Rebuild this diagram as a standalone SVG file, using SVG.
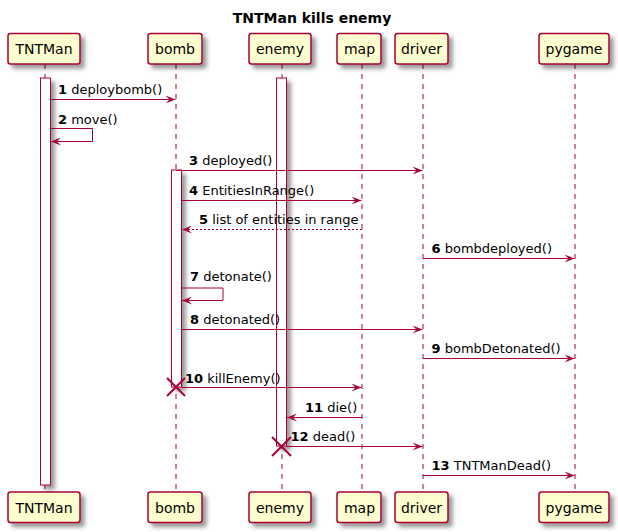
<svg xmlns="http://www.w3.org/2000/svg" width="618" height="532" viewBox="0 0 618 532">
<defs>
<filter id="sh" x="-1" y="-1" width="300%" height="300%">
<feGaussianBlur result="blurOut" stdDeviation="2"/>
<feColorMatrix type="matrix" in="blurOut" result="cm" values="0 0 0 0 0 0 0 0 0 0 0 0 0 0 0 0 0 0 .4 0"/>
<feOffset in="cm" result="off" dx="4" dy="4"/>
<feBlend in="SourceGraphic" in2="off" mode="normal"/>
</filter>
<marker id="ah" viewBox="0 0 10 8" refX="10" refY="4" markerWidth="10" markerHeight="8" markerUnits="userSpaceOnUse" orient="auto">
<polygon points="0,0 10,4 0,8 4,4" fill="#A80036"/>
</marker>
</defs>
<style>
.box{fill:#FEFECE;stroke:#A80036;stroke-width:1.5;filter:url(#sh)}
.bar{fill:#FFFFFF;stroke:#A80036;stroke-width:1;filter:url(#sh)}
.life{stroke:#A80036;stroke-width:1;stroke-dasharray:5,5;fill:none}
.pt{font-family:"DejaVu Sans",sans-serif;font-size:14px;fill:#000;text-anchor:middle}
.msg{stroke:#A80036;stroke-width:1;fill:none;marker-end:url(#ah)}
.ret{stroke:#A80036;stroke-width:1;fill:none;stroke-dasharray:2,2;marker-end:url(#ah)}
.lbl{font-family:"DejaVu Sans",sans-serif;font-size:13px;fill:#000}
.num{font-weight:bold}
.x{stroke:#A80036;stroke-width:2}
.title{font-family:"DejaVu Sans",sans-serif;font-size:14px;font-weight:bold;text-anchor:middle;fill:#000}
</style>
<rect width="618" height="532" fill="#FFFFFF"/>
<text class="title" x="312" y="23">TNTMan kills enemy</text>

<g id="lifelines">
<line class="life" x1="45" y1="64" x2="45" y2="492"/>
<line class="life" x1="176" y1="64" x2="176" y2="492"/>
<line class="life" x1="282" y1="64" x2="282" y2="492"/>
<line class="life" x1="362" y1="64" x2="362" y2="492"/>
<line class="life" x1="423" y1="64" x2="423" y2="492"/>
<line class="life" x1="575" y1="64" x2="575" y2="492"/>
</g>

<g id="TNTMan">
<rect class="bar" x="40.5" y="78" width="10" height="407"/>
<rect class="box" x="8" y="33.5" width="72" height="30.5" rx="2.5"/>
<text class="pt" x="44" y="54">TNTMan</text>
<rect class="box" x="8" y="492" width="72" height="30.5" rx="2.5"/>
<text class="pt" x="44" y="512.5">TNTMan</text>
</g>
<g id="bomb">
<rect class="bar" x="171.5" y="170" width="10" height="217"/>
<rect class="box" x="148" y="33.5" width="54" height="30.5" rx="2.5"/>
<text class="pt" x="175" y="54">bomb</text>
<rect class="box" x="148" y="492" width="54" height="30.5" rx="2.5"/>
<text class="pt" x="175" y="512.5">bomb</text>
</g>
<g id="enemy">
<rect class="bar" x="276.5" y="78" width="10" height="368"/>
<rect class="box" x="249" y="33.5" width="62" height="30.5" rx="2.5"/>
<text class="pt" x="280" y="54">enemy</text>
<rect class="box" x="249" y="492" width="62" height="30.5" rx="2.5"/>
<text class="pt" x="280" y="512.5">enemy</text>
</g>
<g id="map">
<rect class="box" x="337" y="33.5" width="44" height="30.5" rx="2.5"/>
<text class="pt" x="359.5" y="54">map</text>
<rect class="box" x="337" y="492" width="44" height="30.5" rx="2.5"/>
<text class="pt" x="359.5" y="512.5">map</text>
</g>
<g id="driver">
<rect class="box" x="395" y="33.5" width="53" height="30.5" rx="2.5"/>
<text class="pt" x="421.5" y="54">driver</text>
<rect class="box" x="395" y="492" width="53" height="30.5" rx="2.5"/>
<text class="pt" x="421.5" y="512.5">driver</text>
</g>
<g id="pygame">
<rect class="box" x="539" y="33.5" width="70" height="30.5" rx="2.5"/>
<text class="pt" x="574" y="54">pygame</text>
<rect class="box" x="539" y="492" width="70" height="30.5" rx="2.5"/>
<text class="pt" x="574" y="512.5">pygame</text>
</g>

<g id="connectors">
<line class="msg" x1="50.5" y1="99.5" x2="175.5" y2="99.5"/>
<text class="lbl" x="58" y="94"><tspan class="num">1</tspan> deploybomb()</text>

<polyline class="msg" points="50.5,128.5 92.5,128.5 92.5,141.5 51,141.5"/>
<text class="lbl" x="58" y="123.5"><tspan class="num">2</tspan> move()</text>

<line class="msg" x1="176" y1="170.5" x2="422.5" y2="170.5"/>
<text class="lbl" x="189" y="165"><tspan class="num">3</tspan> deployed()</text>

<line class="msg" x1="181.5" y1="200.5" x2="361.5" y2="200.5"/>
<text class="lbl" x="189" y="195"><tspan class="num">4</tspan> EntitiesInRange()</text>

<line class="ret" x1="362" y1="229.5" x2="182" y2="229.5"/>
<text class="lbl" x="199" y="224"><tspan class="num">5</tspan> list of entities in range</text>

<line class="msg" x1="423" y1="258.5" x2="574.5" y2="258.5"/>
<text class="lbl" x="431.5" y="253"><tspan class="num">6</tspan> bombdeployed()</text>

<polyline class="msg" points="181.5,288 223,288 223,300.5 182,300.5"/>
<text class="lbl" x="190" y="281"><tspan class="num">7</tspan> detonate()</text>

<line class="msg" x1="181.5" y1="329.5" x2="422.5" y2="329.5"/>
<text class="lbl" x="190" y="324"><tspan class="num">8</tspan> detonated()</text>

<line class="msg" x1="423" y1="358.5" x2="574.5" y2="358.5"/>
<text class="lbl" x="431.5" y="353"><tspan class="num">9</tspan> bombDetonated()</text>

<line class="msg" x1="181.5" y1="387.5" x2="361.5" y2="387.5"/>
<text class="lbl" x="185" y="382.5"><tspan class="num">10</tspan> killEnemy()</text>
<line class="x" x1="167" y1="378" x2="185" y2="396"/>
<line class="x" x1="185" y1="378" x2="167" y2="396"/>

<line class="msg" x1="362" y1="417.5" x2="287" y2="417.5"/>
<text class="lbl" x="305" y="412"><tspan class="num">11</tspan> die()</text>

<line class="msg" x1="286.5" y1="446.5" x2="422.5" y2="446.5"/>
<text class="lbl" x="290.5" y="441"><tspan class="num">12</tspan> dead()</text>
<line class="x" x1="272" y1="437" x2="291" y2="456"/>
<line class="x" x1="291" y1="437" x2="272" y2="456"/>

<line class="msg" x1="423" y1="475.5" x2="574.5" y2="475.5"/>
<text class="lbl" x="431.5" y="470"><tspan class="num">13</tspan> TNTManDead()</text>
</g>
</svg>
